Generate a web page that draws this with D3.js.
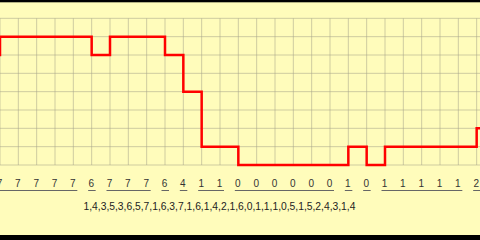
<!DOCTYPE html>
<html lang="en">
<head>
<meta charset="utf-8">
<script src="https://cdn.jsdelivr.net/npm/d3@7"></script>
<style>
    html, body { margin: 0; padding: 0; background: #fffcbb; }
    svg { display: block; }
</style>
</head>
<body>
<svg id="step-chart"></svg>
<script>
(function () {

    // level shown just before the first column (only its edge is visible)
    var leadValue = 6;
    // one level per column, read left to right
    var levels = [7, 7, 7, 7, 7, 6, 7, 7, 7, 6, 4, 1, 1, 0, 0, 0, 0, 0, 0, 1, 0, 1, 1, 1, 1, 1, 2];
    var sequenceLabel = "1,4,3,5,3,6,5,7,1,6,3,7,1,6,1,4,2,1,6,0,1,1,1,0,5,1,5,2,4,3,1,4";
    var levelTicks = [0, 1, 2, 3, 4, 5, 6, 7, 8];

    var chartWidth = 480;
    var chartHeight = 240;
    var cell = 55 / 3;

    var xScale = d3.scaleLinear()
        .domain([0, 1])
        .range([0, cell]);
    var yScale = d3.scaleLinear()
        .domain([0, 8])
        .range([165, 165 - 8 * cell]);

    var svg = d3.select("#step-chart")
        .attr("width", chartWidth)
        .attr("height", chartHeight)
        .style("font-family", "'Liberation Sans', Arial, sans-serif");

    svg.append("rect")
        .attr("width", chartWidth)
        .attr("height", chartHeight)
        .attr("fill", "#fffcbb");

    // grid
    var columns = d3.range(levels.length);
    var gridG = svg.append("g").attr("class", "grid");
    gridG.selectAll("line.vgrid")
        .data(columns)
        .enter()
        .append("line")
        .attr("class", "vgrid")
        .attr("x1", d => xScale(d))
        .attr("x2", d => xScale(d))
        .attr("y1", yScale(8))
        .attr("y2", yScale(0))
        .attr("stroke", "#a8a68a")
        .attr("stroke-opacity", 0.55)
        .attr("stroke-width", 1);
    gridG.selectAll("line.hgrid")
        .data(levelTicks)
        .enter()
        .append("line")
        .attr("class", "hgrid")
        .attr("x1", 0)
        .attr("x2", chartWidth)
        .attr("y1", d => yScale(d))
        .attr("y2", d => yScale(d))
        .attr("stroke", "#a8a68a")
        .attr("stroke-opacity", 0.55)
        .attr("stroke-width", 1);

    // step line, each level holds from its column to the next
    var points = [{i: -1, v: leadValue}]
        .concat(levels.map((v, i) => ({i: i, v: v})))
        .concat([{i: levels.length, v: levels[levels.length - 1]}]);
    var stepLine = d3.line()
        .x(d => xScale(d.i))
        .y(d => yScale(d.v))
        .curve(d3.curveStepAfter);
    svg.append("path")
        .attr("d", stepLine(points))
        .attr("fill", "none")
        .attr("stroke", "#ff0000")
        .attr("stroke-width", 2.5)
        .attr("stroke-linejoin", "miter");

    // digits under each column (the first one is cut by the left edge, as in the original)
    svg.selectAll("text.level")
        .data(levels)
        .enter()
        .append("text")
        .attr("class", "level")
        .attr("x", (d, i) => xScale(i) - 0.5)
        .attr("y", 187)
        .attr("text-anchor", "middle")
        .style("font-size", "10px")
        .attr("fill", "#333")
        .text(d => d);

    // underline runs of equal levels
    var runs = [];
    levels.forEach(function (v, i) {
        if (i > 0 && levels[i - 1] === v) {
            runs[runs.length - 1].end = i;
        } else {
            runs.push({start: i, end: i, v: v});
        }
    });
    svg.selectAll("line.run")
        .data(runs)
        .enter()
        .append("line")
        .attr("class", "run")
        .attr("x1", d => xScale(d.start) - 3.5)
        .attr("x2", d => xScale(d.end) + 4)
        .attr("y1", 190.5)
        .attr("y2", 190.5)
        .attr("stroke", "#666")
        .attr("stroke-width", 1);

    svg.append("text")
        .attr("x", 83.5)
        .attr("y", 210)
        .style("font-size", "10.3px")
        .attr("fill", "#222")
        .text(sequenceLabel);

    // black bands top and bottom
    svg.append("rect")
        .attr("width", chartWidth)
        .attr("height", 2.3)
        .attr("fill", "#000");
    svg.append("rect")
        .attr("y", 235)
        .attr("width", chartWidth)
        .attr("height", 5)
        .attr("fill", "#000");

})();
</script>
</body>
</html>
